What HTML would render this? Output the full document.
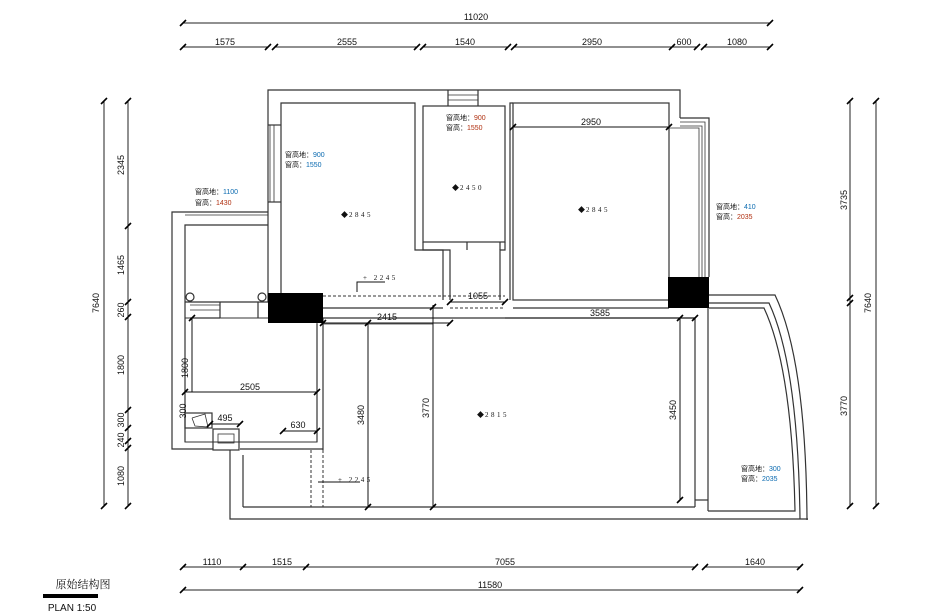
<!DOCTYPE html>
<html><head><meta charset="utf-8"><style>
body{margin:0;background:#fff}
svg{display:block}
text{font-family:"Liberation Sans","Noto Sans CJK SC",sans-serif;fill:#111}
.d{font-size:9px}
.s{font-size:7px;font-family:"Liberation Serif","Noto Serif CJK SC",serif}
</style></head><body>
<svg width="925" height="616" viewBox="0 0 925 616" xmlns="http://www.w3.org/2000/svg">
<defs>
<g id="t"><line x1="-3" y1="3" x2="3" y2="-3" stroke="#000" stroke-width="1.6"/></g>
</defs>
<g stroke="#222" stroke-width="1" fill="none">
<!-- top dims -->
<line x1="183" y1="23" x2="770" y2="23"/>
<line x1="183" y1="47" x2="268" y2="47"/><line x1="275" y1="47" x2="417" y2="47"/>
<line x1="423" y1="47" x2="508" y2="47"/><line x1="514" y1="47" x2="672" y2="47"/>
<line x1="672" y1="47" x2="697" y2="47"/><line x1="704" y1="47" x2="770" y2="47"/>
<!-- left dims -->
<line x1="104" y1="101" x2="104" y2="506"/><line x1="128" y1="101" x2="128" y2="506"/>
<!-- right dims -->
<line x1="850" y1="101" x2="850" y2="506"/><line x1="876" y1="101" x2="876" y2="506"/>
<!-- bottom dims -->
<line x1="183" y1="567" x2="695" y2="567"/><line x1="705" y1="567" x2="800" y2="567"/>
<line x1="183" y1="590" x2="800" y2="590"/>
</g>
<g>
<use href="#t" x="183" y="23"/><use href="#t" x="770" y="23"/>
<use href="#t" x="183" y="47"/><use href="#t" x="268" y="47"/><use href="#t" x="275" y="47"/><use href="#t" x="417" y="47"/><use href="#t" x="423" y="47"/><use href="#t" x="508" y="47"/><use href="#t" x="514" y="47"/><use href="#t" x="672" y="47"/><use href="#t" x="697" y="47"/><use href="#t" x="704" y="47"/><use href="#t" x="770" y="47"/>
<use href="#t" x="104" y="101"/><use href="#t" x="104" y="506"/>
<use href="#t" x="128" y="101"/><use href="#t" x="128" y="226"/><use href="#t" x="128" y="302"/><use href="#t" x="128" y="317"/><use href="#t" x="128" y="410"/><use href="#t" x="128" y="428"/><use href="#t" x="128" y="441"/><use href="#t" x="128" y="448"/><use href="#t" x="128" y="506"/>
<use href="#t" x="850" y="101"/><use href="#t" x="850" y="298"/><use href="#t" x="850" y="303"/><use href="#t" x="850" y="506"/>
<use href="#t" x="876" y="101"/><use href="#t" x="876" y="506"/>
<use href="#t" x="183" y="567"/><use href="#t" x="243" y="567"/><use href="#t" x="306" y="567"/><use href="#t" x="695" y="567"/><use href="#t" x="705" y="567"/><use href="#t" x="800" y="567"/>
<use href="#t" x="183" y="590"/><use href="#t" x="800" y="590"/>
</g>
<g class="d" text-anchor="middle">
<text x="476" y="20">11020</text>
<text x="225" y="45">1575</text><text x="347" y="45">2555</text><text x="465" y="45">1540</text><text x="592" y="45">2950</text><text x="684" y="45">600</text><text x="737" y="45">1080</text>
<text x="212" y="565">1110</text><text x="282" y="565">1515</text><text x="505" y="565">7055</text><text x="755" y="565">1640</text>
<text x="490" y="588">11580</text>
<text transform="translate(99,303) rotate(-90)">7640</text>
<text transform="translate(124,165) rotate(-90)">2345</text>
<text transform="translate(124,265) rotate(-90)">1465</text>
<text transform="translate(124,310) rotate(-90)">260</text>
<text transform="translate(124,365) rotate(-90)">1800</text>
<text transform="translate(124,420) rotate(-90)">300</text>
<text transform="translate(124,440) rotate(-90)">240</text>
<text transform="translate(124,476) rotate(-90)">1080</text>
<text transform="translate(847,200) rotate(-90)">3735</text>
<text transform="translate(847,406) rotate(-90)">3770</text>
<text transform="translate(871,303) rotate(-90)">7640</text>
</g>
<!-- walls -->
<g stroke="#333" stroke-width="1.2" fill="none">
<!-- outer top -->
<polyline points="268,302 268,90 680,90 680,118"/>
<!-- bedroom1 -->
<polyline points="281,302 281,103 415,103 415,250 443,250 443,300"/>
<!-- room2 -->
<rect x="423" y="106" width="82" height="136"/>
<polyline points="423,242 423,250 450,250 450,300"/>
<polyline points="505,242 505,250 500,250 500,300"/>
<line x1="467" y1="242" x2="467" y2="250"/><line x1="500" y1="242" x2="500" y2="250"/>
<!-- room3 -->
<polyline points="510,300 510,103 513,103"/>
<rect x="513" y="103" width="156" height="197"/>
<line x1="513" y1="308" x2="669" y2="308"/>
<!-- right window frames -->
<polyline points="680,118 709,118 709,277"/>
<polyline points="680,122 705,122 705,277" stroke-width="0.8"/>
<polyline points="680,126 702,126 702,277" stroke-width="0.8"/>
<polyline points="669,128 699,128 699,277" stroke-width="0.8"/>
<!-- corridor -->
<line x1="323" y1="308" x2="443" y2="308"/>
<line x1="323" y1="318" x2="695" y2="318"/>
<line x1="323" y1="324" x2="433" y2="324" stroke-width="0.8"/>
<!-- living -->
<line x1="323" y1="318" x2="323" y2="450"/>
<line x1="243" y1="507" x2="695" y2="507"/>
<polyline points="230,450 230,519 808,519"/>
<line x1="243" y1="455" x2="243" y2="507"/>
<line x1="695" y1="318" x2="695" y2="507"/>
<line x1="708" y1="308" x2="708" y2="511"/>
<polyline points="695,500 708,500"/>
<!-- right balcony -->
<path d="M709,295 L775,295 Q806,360 807,520"/>
<path d="M709,303 L769,303 Q798,365 800,519"/>
<path d="M709,308 L764,308 Q792,368 795,511 L708,511"/>
<!-- left balcony -->
<polyline points="268,212 172,212 172,449 213,449"/>
<polyline points="268,225 185,225 185,318"/>
<line x1="185" y1="215" x2="268" y2="215" stroke-width="0.8"/>
<!-- kitchen -->
<rect x="185" y="318" width="132" height="124" stroke-width="1"/>
<polyline points="185,442 185,318"/>
<line x1="317" y1="324" x2="317" y2="442"/>
<line x1="240" y1="449" x2="323" y2="449"/>
<rect x="213" y="429" width="26" height="21"/>
<rect x="218" y="434" width="16" height="9" stroke-width="0.8"/>
<rect x="185" y="413" width="27" height="15"/>
<polyline points="192,418 205,414 208,427 195,426 192,418" stroke-width="0.8"/>
<!-- left windows -->
<line x1="270" y1="125" x2="270" y2="202" stroke-width="0.8"/>
<line x1="274" y1="125" x2="274" y2="202" stroke-width="0.8"/>
<line x1="268" y1="125" x2="281" y2="125"/><line x1="268" y1="202" x2="281" y2="202"/>
<line x1="190" y1="305" x2="220" y2="305" stroke-width="0.8"/>
<line x1="190" y1="310" x2="220" y2="310" stroke-width="0.8"/>
<line x1="190" y1="318" x2="220" y2="318"/>
<line x1="220" y1="302" x2="220" y2="318"/>
<line x1="258" y1="302" x2="258" y2="318"/>
<line x1="185" y1="302" x2="268" y2="302"/>
<!-- top window -->
<line x1="448" y1="90" x2="448" y2="106"/><line x1="478" y1="90" x2="478" y2="106"/>
<line x1="448" y1="95" x2="478" y2="95" stroke-width="0.8"/><line x1="448" y1="100" x2="478" y2="100" stroke-width="0.8"/>
<circle cx="190" cy="297" r="4"/><circle cx="262" cy="297" r="4"/>
</g>
<g fill="#000">
<rect x="268" y="293" width="55" height="30"/>
<rect x="668" y="277" width="41" height="31"/>
</g>
<!-- dashed -->
<g stroke="#333" stroke-width="1" stroke-dasharray="3,2" fill="none">
<line x1="323" y1="296" x2="505" y2="296"/>
<line x1="450" y1="308" x2="505" y2="308"/>
<line x1="311" y1="450" x2="311" y2="507"/>
<line x1="323" y1="450" x2="323" y2="507"/>
</g>
<!-- inner dims -->
<g stroke="#111" stroke-width="1" fill="none">
<line x1="513" y1="127" x2="669" y2="127"/>
<line x1="450" y1="302" x2="505" y2="302"/>
<line x1="323" y1="323" x2="450" y2="323"/>
<line x1="505" y1="318" x2="695" y2="318"/>
<line x1="368" y1="323" x2="368" y2="507"/>
<line x1="433" y1="305" x2="433" y2="507"/>
<line x1="680" y1="318" x2="680" y2="500"/>
<line x1="192" y1="318" x2="192" y2="392"/>
<line x1="185" y1="392" x2="317" y2="392"/>
<line x1="210" y1="424" x2="240" y2="424"/>
<line x1="283" y1="431" x2="317" y2="431"/>
<polyline points="357,292 357,282 385,282"/>
<polyline points="318,482 360,482"/>
</g>
<g>
<use href="#t" x="513" y="127"/><use href="#t" x="669" y="127"/>
<use href="#t" x="450" y="302"/><use href="#t" x="505" y="302"/>
<use href="#t" x="323" y="323"/><use href="#t" x="450" y="323"/>
<use href="#t" x="368" y="323"/><use href="#t" x="368" y="507"/>
<use href="#t" x="433" y="307"/><use href="#t" x="433" y="507"/>
<use href="#t" x="680" y="318"/><use href="#t" x="680" y="500"/><use href="#t" x="695" y="318"/>
<use href="#t" x="192" y="318"/><use href="#t" x="185" y="392"/><use href="#t" x="317" y="392"/>
<use href="#t" x="210" y="424"/><use href="#t" x="240" y="424"/><use href="#t" x="283" y="431"/><use href="#t" x="317" y="431"/>
</g>
<g class="d" text-anchor="middle">
<text x="591" y="125">2950</text>
<text x="478" y="299">1055</text>
<text x="387" y="320">2415</text>
<text x="600" y="316">3585</text>
<text x="250" y="390">2505</text>
<text x="225" y="421">495</text>
<text x="298" y="428">630</text>
<text transform="translate(364,415) rotate(-90)">3480</text>
<text transform="translate(429,408) rotate(-90)">3770</text>
<text transform="translate(676,410) rotate(-90)">3450</text>
<text transform="translate(188,368) rotate(-90)">1800</text>
<text transform="translate(186,411) rotate(-90)">300</text>
</g>
<!-- elevation marks -->
<g font-size="7">
<text x="341" y="217" fill="#000">◆</text><text x="349" y="217" class="s" letter-spacing="2.5" fill="#a35">2845</text>
<text x="452" y="190" fill="#000">◆</text><text x="460" y="190" class="s" letter-spacing="2.5" fill="#236">2450</text>
<text x="578" y="212" fill="#000">◆</text><text x="586" y="212" class="s" letter-spacing="2.5" fill="#a35">2845</text>
<text x="477" y="417" fill="#000">◆</text><text x="485" y="417" class="s" letter-spacing="2.5" fill="#236">2815</text>
<text x="363" y="280" class="s" letter-spacing="2.5" fill="#236">+ 2245</text>
<text x="338" y="482" class="s" letter-spacing="2.5" fill="#a35">+ 2245</text>
</g>
<g class="s">
<text x="195" y="194">窗高地：<tspan fill="#0a6ab0">1100</tspan></text>
<text x="195" y="205">窗高：<tspan fill="#b03010">1430</tspan></text>
<text x="285" y="157">窗高地：<tspan fill="#0a6ab0">900</tspan></text>
<text x="285" y="167">窗高：<tspan fill="#0a6ab0">1550</tspan></text>
<text x="446" y="120">窗高地：<tspan fill="#b03010">900</tspan></text>
<text x="446" y="130">窗高：<tspan fill="#b03010">1550</tspan></text>
<text x="716" y="209">窗高地：<tspan fill="#0a6ab0">410</tspan></text>
<text x="716" y="219">窗高：<tspan fill="#b03010">2035</tspan></text>
<text x="741" y="471">窗高地：<tspan fill="#0a6ab0">300</tspan></text>
<text x="741" y="481">窗高：<tspan fill="#0a6ab0">2035</tspan></text>
</g>
<!-- title -->
<text x="83" y="588" font-size="11" text-anchor="middle" style="font-family:'Liberation Serif','Noto Serif CJK SC',serif">原始结构图</text>
<rect x="43" y="594" width="55" height="4" fill="#000"/>
<text x="72" y="611" font-size="10" text-anchor="middle">PLAN   1:50</text>
</svg>
</body></html>
